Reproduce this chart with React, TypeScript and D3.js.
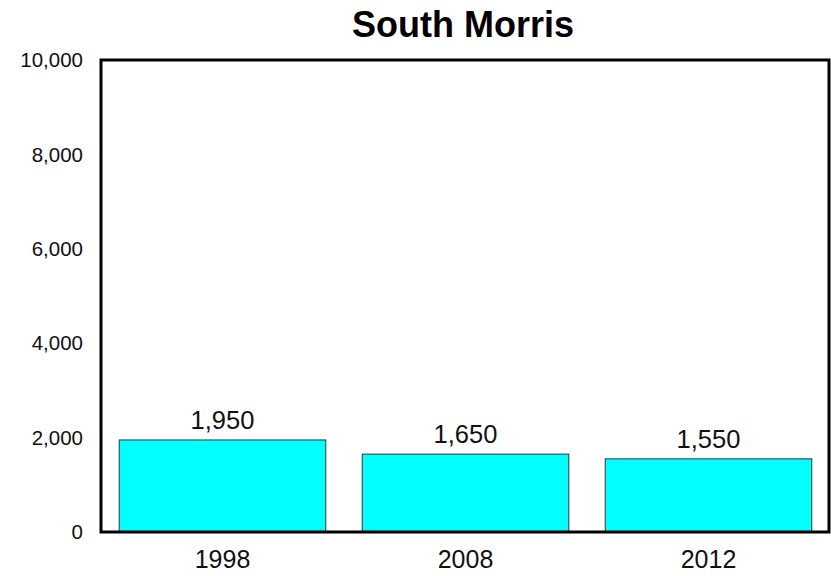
import * as d3 from "d3";
import React from "react";
import { useRef, useEffect } from "react";

// chart data
const years = ["1998", "2008", "2012"];
const counts = [1950, 1650, 1550];
const yTicks = [0, 2000, 4000, 6000, 8000, 10000];

const width = 831;
const height = 576;
const margin = { top: 60, right: 1, bottom: 44, left: 101 };
const font = "Liberation Sans, Arial, sans-serif";

export default function App() {
  const ref = useRef<SVGSVGElement>(null);

  useEffect(() => {
    const svg = d3.select(ref.current);
    svg.selectAll("*").remove();
    const drawWidth = width - margin.left - margin.right;
    const drawHeight = height - margin.top - margin.bottom;

    const xScale = d3.scaleBand().domain(years).range([0, drawWidth]).paddingInner(0.15).paddingOuter(0.075);
    const yScale = d3.scaleLinear().domain([0, 10000]).range([drawHeight, 0]);

    const g = svg.append("g").attr("transform", `translate(${margin.left},${margin.top})`);

    // bars
    g.selectAll("rect.bar")
      .data(years)
      .enter()
      .append("rect")
      .attr("class", "bar")
      .attr("x", (d) => xScale(d)!)
      .attr("y", (d, i) => yScale(counts[i]))
      .attr("width", xScale.bandwidth())
      .attr("height", (d, i) => drawHeight - yScale(counts[i]))
      .attr("fill", "#00ffff")
      .attr("stroke", "#333")
      .attr("stroke-width", 1);

    // value labels
    g.selectAll("text.val")
      .data(years)
      .enter()
      .append("text")
      .attr("class", "val")
      .attr("x", (d) => xScale(d)! + xScale.bandwidth() / 2)
      .attr("y", (d, i) => yScale(counts[i]) - 11)
      .attr("text-anchor", "middle")
      .attr("font-family", font)
      .attr("font-size", 25.5)
      .attr("fill", "#111")
      .text((d, i) => d3.format(",")(counts[i]));

    // y tick labels
    g.selectAll("text.ytick")
      .data(yTicks)
      .enter()
      .append("text")
      .attr("class", "ytick")
      .attr("x", -18)
      .attr("y", (d) => yScale(d))
      .attr("dy", "0.35em")
      .attr("text-anchor", "end")
      .attr("font-family", font)
      .attr("font-size", 20.5)
      .attr("fill", "#111")
      .text((d) => d3.format(",")(d));

    // x labels
    g.selectAll("text.xtick")
      .data(years)
      .enter()
      .append("text")
      .attr("class", "xtick")
      .attr("x", (d) => xScale(d)! + xScale.bandwidth() / 2)
      .attr("y", drawHeight + 36)
      .attr("text-anchor", "middle")
      .attr("font-family", font)
      .attr("font-size", 25)
      .attr("fill", "#111")
      .text((d) => d);

    // frame
    g.append("rect")
      .attr("x", 0)
      .attr("y", 0)
      .attr("width", drawWidth - 1)
      .attr("height", drawHeight)
      .attr("fill", "none")
      .attr("stroke", "#000")
      .attr("stroke-width", 3);

    // title
    svg.append("text")
      .attr("x", 463)
      .attr("y", 37)
      .attr("text-anchor", "middle")
      .attr("font-family", font)
      .attr("font-weight", "bold")
      .attr("font-size", 36)
      .attr("fill", "#000")
      .text("South Morris");
  }, []);

  return (
    <svg
      ref={ref}
      width={width}
      height={height}
      style={{ position: "absolute", left: 0, top: 0, background: "#fff" }}
    />
  );
}
